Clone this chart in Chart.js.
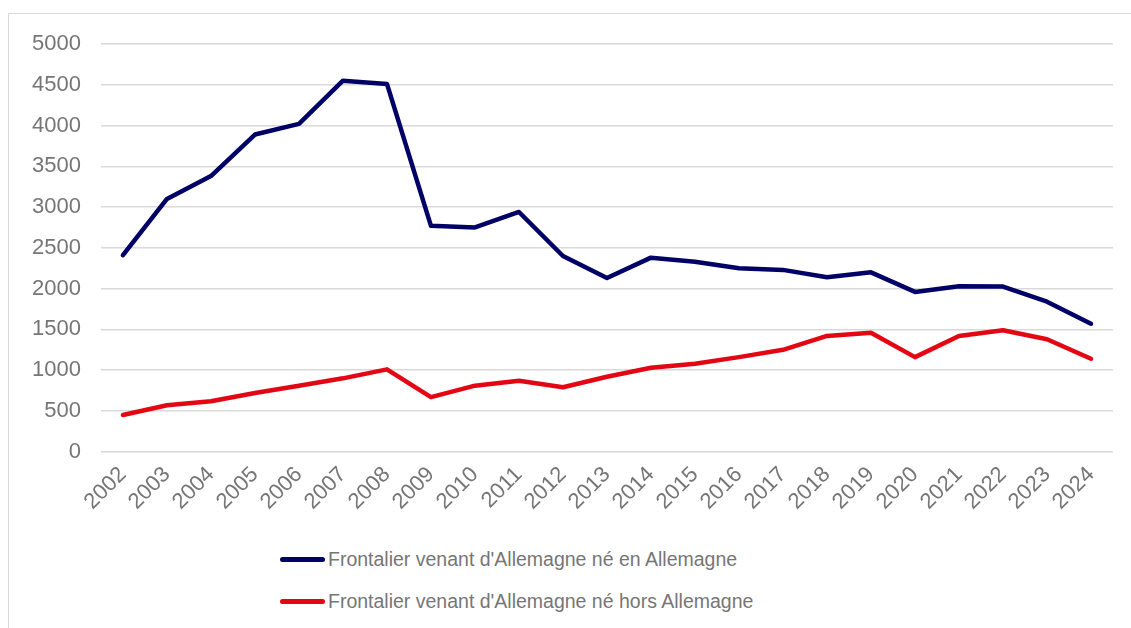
<!DOCTYPE html>
<html>
<head>
<meta charset="utf-8">
<script src="https://cdn.jsdelivr.net/npm/chart.js@4"></script>
<style>
  html, body { margin: 0; padding: 0; background: #fff; }
  #wrap { position: relative; width: 1131px; height: 628px; overflow: hidden; }
  #frame { position: absolute; left: 8px; top: 13px; width: 1140px; height: 640px; border: 1px solid #d9d9d9; box-sizing: border-box; }
  #chart-box { position: absolute; left: 0; top: 0; width: 1131px; height: 517px; }
  #legend { position: absolute; left: 280px; top: 538px; font-family: "Liberation Sans", Arial, sans-serif; font-size: 19.5px; color: #767676; }
  .item { display: flex; align-items: center; height: 42px; }
  .swatch { width: 45px; height: 5px; border-radius: 3px; margin-right: 3px; }
</style>
</head>
<body>
<div id="wrap">
  <div id="frame"></div>
  <div id="chart-box"><canvas id="line-chart"></canvas></div>
  <div id="legend"></div>
</div>
<script>
// data
const years = ['2002', '2003', '2004', '2005', '2006', '2007', '2008', '2009', '2010', '2011', '2012',
  '2013', '2014', '2015', '2016', '2017', '2018', '2019', '2020', '2021', '2022', '2023', '2024'];
const bornInGermany = [2410, 3100, 3380, 3890, 4020, 4550, 4510, 2770, 2750, 2940, 2400,
  2130, 2380, 2330, 2250, 2230, 2140, 2200, 1960, 2030, 2025, 1840, 1570];
const bornOutsideGermany = [450, 570, 620, 720, 810, 900, 1010, 670, 810, 870, 790,
  920, 1030, 1080, 1160, 1250, 1420, 1460, 1160, 1420, 1490, 1380, 1140];
const seriesNames = ["Frontalier venant d'Allemagne né en Allemagne", "Frontalier venant d'Allemagne né hors Allemagne"];
const yTicks = [0, 500, 1000, 1500, 2000, 2500, 3000, 3500, 4000, 4500, 5000];

const colors = ['#000066', '#e30613'];
const font = "'Liberation Sans', Arial, sans-serif";

function createLineChart() {
    const ctx = document.getElementById('line-chart').getContext('2d');
    const chart = new Chart(ctx, {
        type: 'line',
        data: {
            labels: years,
            datasets: [bornInGermany, bornOutsideGermany].map((values, i) => ({
                label: seriesNames[i],
                data: values,
                borderColor: colors[i],
                backgroundColor: colors[i],
                borderWidth: 4.5,
                pointRadius: 0,
                borderJoinStyle: 'round',
                borderCapStyle: 'round',
                tension: 0,
                fill: false
            }))
        },
        options: {
            responsive: true,
            maintainAspectRatio: false,
            animation: false,
            layout: { padding: { left: 12, right: 18, top: 44, bottom: 0 } },
            plugins: {
                legend: { display: false },
                tooltip: { enabled: false }
            },
            scales: {
                x: {
                    offset: true,
                    grid: { display: false },
                    border: { display: false },
                    ticks: {
                        color: '#767676',
                        font: { family: font, size: 22 },
                        minRotation: 45,
                        maxRotation: 45,
                        padding: 2,
                        autoSkip: false
                    }
                },
                y: {
                    min: 0,
                    max: 5000,
                    afterBuildTicks: axis => { axis.ticks = yTicks.map(v => ({ value: v })); },
                    grid: { color: '#d9d9d9', lineWidth: 1.5, drawTicks: false },
                    border: { display: false },
                    ticks: {
                        color: '#767676',
                        font: { family: font, size: 22 },
                        padding: 20,
                        callback: v => String(v)
                    }
                }
            }
        }
    });

    // legend as plain text below the chart
    const legend = document.getElementById('legend');
    chart.data.datasets.forEach(ds => {
        const row = document.createElement('div');
        row.className = 'item';
        row.innerHTML = '<span class="swatch" style="background:' + ds.borderColor + '"></span>';
        row.appendChild(document.createTextNode(ds.label));
        legend.appendChild(row);
    });
}

window.addEventListener('DOMContentLoaded', createLineChart);
</script>
</body>
</html>
